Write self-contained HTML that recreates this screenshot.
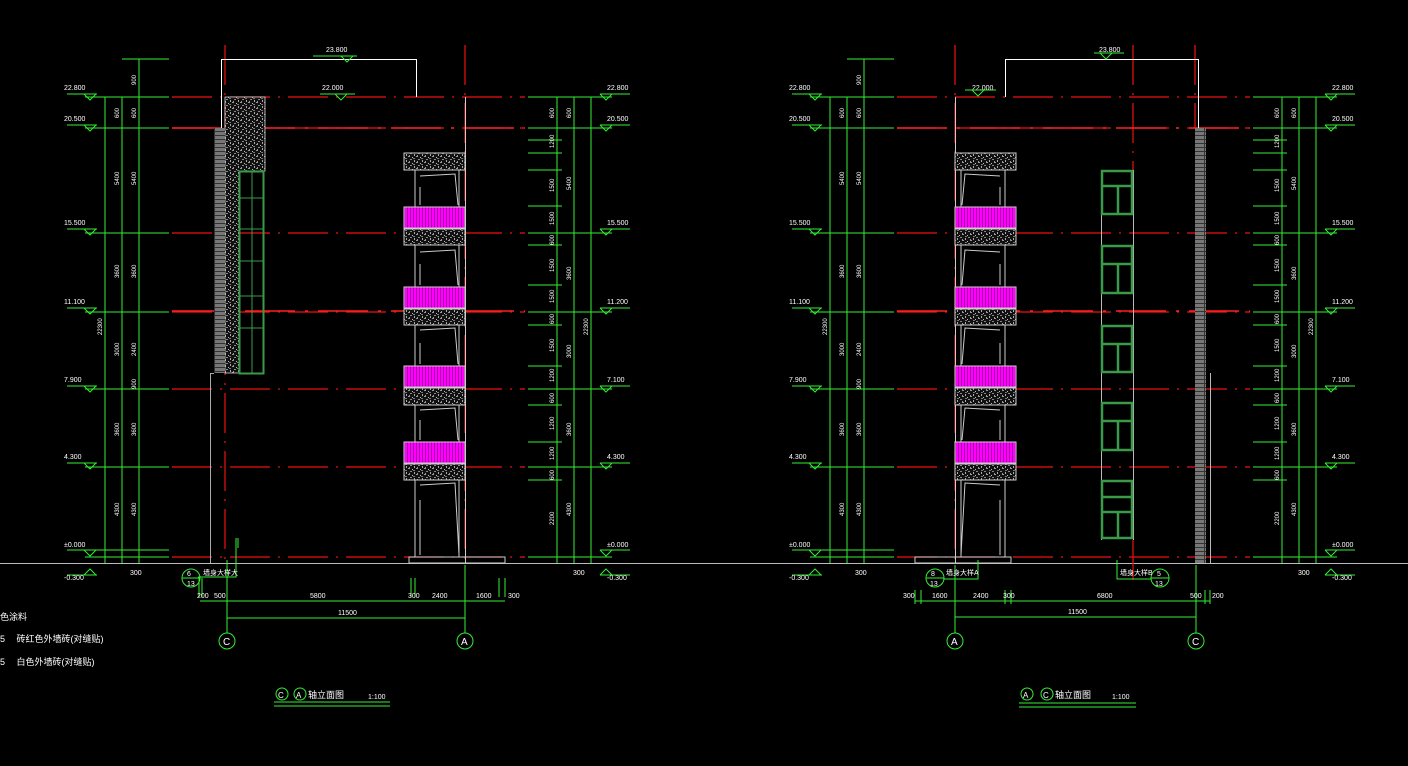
<!DOCTYPE html>
<html><head><meta charset="utf-8"><style>
html,body{margin:0;padding:0;background:#000;}
svg{display:block}
text{font-family:"Liberation Sans","Noto Sans CJK SC",sans-serif;fill:#fff;}
</style></head><body>
<svg width="1408" height="766" viewBox="0 0 1408 766" xmlns="http://www.w3.org/2000/svg">
<defs>
<pattern id="sp" width="8" height="6" patternUnits="userSpaceOnUse">
<rect width="8" height="6" fill="#111"/>
<rect x="0" y="0" width="2" height="1" fill="#999"/><rect x="4" y="1" width="1" height="1" fill="#bbb"/>
<rect x="2" y="3" width="2" height="1" fill="#888"/><rect x="6" y="4" width="1" height="2" fill="#aaa"/>
<rect x="1" y="5" width="1" height="1" fill="#999"/><rect x="5" y="2" width="2" height="1" fill="#777"/>
</pattern>
<pattern id="br" width="11" height="4" patternUnits="userSpaceOnUse">
<rect width="11" height="4" fill="#777"/><rect x="0" y="3" width="11" height="1" fill="#333"/><rect x="5" y="0" width="1" height="3" fill="#333"/>
</pattern>
<pattern id="mg" width="3" height="20" patternUnits="userSpaceOnUse">
<rect width="3" height="20" fill="#ff00ff"/><rect x="2" width="1" height="20" fill="#aa00aa"/>
</pattern>
<g id="bal">
<rect x="404" y="153" width="61" height="17" fill="url(#sp)" stroke="#ccc"/>
<g fill="none" stroke="#ccc" stroke-width="1">
<path d="M415 170V207M459 170V207M420 187V205M420 176L455 174L458 205"/>
<path d="M415 245V287M459 245V287M420 264V285M420 252L455 250L458 285"/>
<path d="M415 325V366M459 325V366M420 343V364M420 330L455 328L458 364"/>
<path d="M415 405V442M459 405V442M420 420V440M420 410L455 408L458 440"/>
<path d="M415 480V557M459 480V557M420 500V555M420 485L455 483L459 555"/>
<path d="M409 557H505V563H409Z"/>
</g>
<g stroke="#ccc">
<rect x="404" y="207" width="61" height="21" fill="url(#mg)"/><rect x="404" y="229" width="61" height="16" fill="url(#sp)"/>
<rect x="404" y="287" width="61" height="21" fill="url(#mg)"/><rect x="404" y="309" width="61" height="16" fill="url(#sp)"/>
<rect x="404" y="366" width="61" height="21" fill="url(#mg)"/><rect x="404" y="388" width="61" height="17" fill="url(#sp)"/>
<rect x="404" y="442" width="61" height="21" fill="url(#mg)"/><rect x="404" y="464" width="61" height="16" fill="url(#sp)"/>
</g>
</g>
<g id="dims" stroke="#33ee33" fill="none" stroke-width="1">
<path d="M105 97V563M122 97V563M139 59V563M122 59H169"/>
<path d="M85 97H169M85 128H169M85 233H169M85 312H169M85 389H169M85 467H169M85 550H169M85 557H169"/>
<path d="M67 94H97M84 94L90 100L96 94M67 125H97M84 125L90 131L96 125M67 229H97M84 229L90 235L96 229M67 308H97M84 308L90 314L96 308M67 386H97M84 386L90 392L96 386M67 463H97M84 463L90 469L96 463M67 550H97M84 550L90 556L96 550M67 575H97M84 575L90 569L96 575"/>
<path d="M557 97V563M574 97V563M591 97V563"/>
<path d="M528 97H612M528 128H612M528 233H612M528 312H612M528 389H612M528 467H612M528 557H612"/>
<path d="M528 140H562M528 153H562M528 170H562M528 206H562M528 245H562M528 285H562M528 325H562M528 366H562M528 405H562M528 442H562M528 480H562"/>
<path d="M600 94H630M600 94L606 100L612 94M600 125H630M600 125L606 131L612 125M600 229H630M600 229L606 235L612 229M600 308H630M600 308L606 314L612 308M600 386H630M600 386L606 392L612 386M600 463H630M600 463L606 469L612 463M600 550H630M600 550L606 556L612 550M600 575H630M600 575L606 569L612 575"/>
</g>
<g id="dtxt" font-size="7">
<text x="64" y="90">22.800</text><text x="64" y="121">20.500</text><text x="64" y="225">15.500</text><text x="64" y="304">11.100</text><text x="64" y="382">7.900</text><text x="64" y="459">4.300</text><text x="64" y="547">±0.000</text><text x="64" y="580">-0.300</text>
<text x="607" y="90">22.800</text><text x="607" y="121">20.500</text><text x="607" y="225">15.500</text><text x="607" y="304">11.200</text><text x="607" y="382">7.100</text><text x="607" y="459">4.300</text><text x="607" y="547">±0.000</text><text x="607" y="580">-0.300</text>
<text x="130" y="575">300</text><text x="573" y="575">300</text>
<g font-size="6">
<text transform="translate(136,85) rotate(-90)">900</text><text transform="translate(119,118) rotate(-90)">600</text><text transform="translate(136,118) rotate(-90)">600</text>
<text transform="translate(119,185) rotate(-90)">5400</text><text transform="translate(136,185) rotate(-90)">5400</text>
<text transform="translate(119,278) rotate(-90)">3600</text><text transform="translate(136,278) rotate(-90)">3600</text>
<text transform="translate(102,335) rotate(-90)">22300</text><text transform="translate(119,356) rotate(-90)">3000</text><text transform="translate(136,356) rotate(-90)">2400</text>
<text transform="translate(136,389) rotate(-90)">900</text><text transform="translate(119,436) rotate(-90)">3600</text><text transform="translate(136,436) rotate(-90)">3600</text>
<text transform="translate(119,516) rotate(-90)">4300</text><text transform="translate(136,516) rotate(-90)">4300</text>
<text transform="translate(554,118) rotate(-90)">600</text><text transform="translate(554,148) rotate(-90)">1200</text><text transform="translate(554,192) rotate(-90)">1500</text><text transform="translate(554,225) rotate(-90)">1500</text><text transform="translate(554,245) rotate(-90)">600</text><text transform="translate(554,272) rotate(-90)">1500</text><text transform="translate(554,303) rotate(-90)">1500</text><text transform="translate(554,324) rotate(-90)">600</text><text transform="translate(554,352) rotate(-90)">1500</text><text transform="translate(554,382) rotate(-90)">1200</text><text transform="translate(554,403) rotate(-90)">600</text><text transform="translate(554,430) rotate(-90)">1200</text><text transform="translate(554,460) rotate(-90)">1200</text><text transform="translate(554,480) rotate(-90)">600</text><text transform="translate(554,525) rotate(-90)">2200</text>
<text transform="translate(571,118) rotate(-90)">600</text><text transform="translate(571,190) rotate(-90)">5400</text><text transform="translate(571,280) rotate(-90)">3600</text><text transform="translate(571,358) rotate(-90)">3000</text><text transform="translate(571,436) rotate(-90)">3600</text><text transform="translate(571,516) rotate(-90)">4300</text><text transform="translate(588,335) rotate(-90)">22300</text>
</g>
</g>
</defs>

<path d="M0 563.5H1408" stroke="#bbb" stroke-width="1"/>

<!-- LEFT DRAWING -->
<g stroke="#ee1111" stroke-width="1.2" fill="none" stroke-dasharray="40 8 2 8">
<path d="M172 97H525M172 128H525M172 233H525M172 312H525M172 389H525M172 467H525M172 557H525"/>
<path d="M225 45V563M465 45V563"/>
</g>
<path d="M172 128H525M172 311H525" stroke="#ff2020" stroke-width="1.6" stroke-dasharray="50 10 3 10"/>
<path d="M221.5 128V59.5H416.5V97" stroke="#fff" fill="none"/>
<path d="M225 97H265V171H239V373H225Z" fill="url(#sp)" stroke="#ddd" stroke-width="0.8"/>
<rect x="214" y="128" width="11" height="245" fill="url(#br)"/>
<rect x="239.5" y="171.5" width="24" height="202" fill="none" stroke="#3a9a4a" stroke-width="2"/>
<path d="M252 171V373M239 198H264M239 229H264M239 261H264M239 296H264M239 328H264" stroke="#3a9a4a"/>
<path d="M210.5 563V373.5H214" stroke="#aaa" fill="none"/>
<path d="M465.5 97V563" stroke="#ccc"/>
<use href="#bal"/>
<use href="#dims"/><use href="#dtxt"/>
<g stroke="#33ee33" fill="none">
<circle cx="191" cy="578" r="9"/><path d="M182 578H200M198 577H236V538M238 538V548"/>
<path d="M199 578V597M202 578V597M227 560V633M411 578V597M415 578V597M465 565V633M499 578V597M505 578V597"/>
<path d="M200 601H505M227 618H465"/>
<circle cx="227" cy="641" r="8"/><circle cx="465" cy="641" r="8"/>
<path d="M274 702H390M274 706H390"/><circle cx="282" cy="694" r="6"/><circle cx="300" cy="694" r="6"/>
</g>
<g font-size="7">
<text x="187" y="576">6</text><text x="187" y="586">13</text><text x="203" y="575">墙身大样大</text>
<text x="197" y="598">200</text><text x="214" y="598">500</text><text x="310" y="598">5800</text><text x="408" y="598">300</text><text x="432" y="598">2400</text><text x="476" y="598">1600</text><text x="508" y="598">300</text>
<text x="338" y="615">11500</text>
</g>
<text x="223" y="645" font-size="10">C</text><text x="461" y="645" font-size="10">A</text>
<text x="278" y="698" font-size="8">C</text><text x="296" y="698" font-size="8">A</text>
<text x="308" y="698" font-size="9">轴立面图</text><text x="368" y="699" font-size="7">1:100</text>
<g font-size="9"><text x="0" y="620">色涂料</text><text x="0" y="642">5　 砖红色外墙砖(对缝贴)</text><text x="0" y="665">5　 白色外墙砖(对缝贴)</text></g>
<text x="326" y="52" font-size="7">23.800</text><path d="M313 56H357M341 56L347 62L353 56" stroke="#33ee33" fill="none"/>
<text x="322" y="90" font-size="7">22.000</text><path d="M320 94H355M335 94L341 100L347 94" stroke="#33ee33" fill="none"/>

<!-- RIGHT DRAWING -->
<g stroke="#ee1111" stroke-width="1.2" fill="none" stroke-dasharray="40 8 2 8">
<path d="M897 97H1250M897 128H1250M897 233H1250M897 312H1250M897 389H1250M897 467H1250M897 557H1250"/>
<path d="M955 45V563M1195 45V128M1133 45V170M1133 540V580"/>
</g>
<path d="M897 128H1250M897 311H1250" stroke="#ff2020" stroke-width="1.6" stroke-dasharray="50 10 3 10"/>
<path d="M1005.5 97V59.5H1198.5V128" stroke="#fff" fill="none"/>
<path d="M955.5 97V563" stroke="#ccc"/>
<g transform="translate(1420,0) scale(-1,1)"><use href="#bal"/></g>
<rect x="1195" y="128" width="11" height="435" fill="url(#br)"/>
<path d="M1101.5 170V540M1133.5 170V540M1210.5 373V563" stroke="#bbb"/>
<g stroke="#3a9a4a" stroke-width="2.5" fill="none">
<rect x="1102" y="171" width="30" height="43"/><path d="M1102 186H1132M1118 186V214"/>
<rect x="1102" y="246" width="30" height="47"/><path d="M1102 264H1132M1118 264V293"/>
<rect x="1102" y="326" width="30" height="46"/><path d="M1102 344H1132M1118 344V372"/>
<rect x="1102" y="403" width="30" height="47"/><path d="M1102 421H1132M1118 421V450"/>
<rect x="1102" y="481" width="30" height="57"/><path d="M1102 497H1132M1102 512H1132M1118 512V538"/>
</g>
<g transform="translate(725,0)"><use href="#dims"/><use href="#dtxt"/></g>
<text x="1099" y="52" font-size="7">23.800</text><path d="M1094 53H1124M1100 53L1106 59L1112 53" stroke="#33ee33" fill="none"/>
<text x="972" y="90" font-size="7">22.000</text><path d="M965 90H996M972 90L978 96L984 90" stroke="#33ee33" fill="none"/>
<g stroke="#33ee33" fill="none">
<circle cx="935" cy="578" r="9"/><path d="M926 578H944M944 579H978V560"/>
<circle cx="1160" cy="578" r="9"/><path d="M1151 578H1169M1151 579H1117V560"/>
<path d="M915 590V604M921 590V604M955 565V633M1005 590V604M1011 590V604M1196 565V633M1205 590V604M1210 590V604"/>
<path d="M915 601H1210M955 617H1196"/>
<circle cx="955" cy="641" r="8"/><circle cx="1196" cy="641" r="8"/>
<path d="M1019 703H1136M1019 707H1136"/><circle cx="1027" cy="694" r="6"/><circle cx="1047" cy="694" r="6"/>
</g>
<g font-size="7">
<text x="931" y="576">8</text><text x="930" y="586">13</text><text x="946" y="575">墙身大样A</text>
<text x="1157" y="576">5</text><text x="1155" y="586">13</text><text x="1120" y="575">墙身大样B</text>
<text x="903" y="598">300</text><text x="932" y="598">1600</text><text x="973" y="598">2400</text><text x="1003" y="598">300</text><text x="1097" y="598">6800</text><text x="1190" y="598">500</text><text x="1212" y="598">200</text>
<text x="1068" y="614">11500</text>
</g>
<text x="951" y="645" font-size="10">A</text><text x="1192" y="645" font-size="10">C</text>
<text x="1023" y="698" font-size="8">A</text><text x="1043" y="698" font-size="8">C</text>
<text x="1055" y="698" font-size="9">轴立面图</text><text x="1112" y="699" font-size="7">1:100</text>
</svg>
</body></html>
